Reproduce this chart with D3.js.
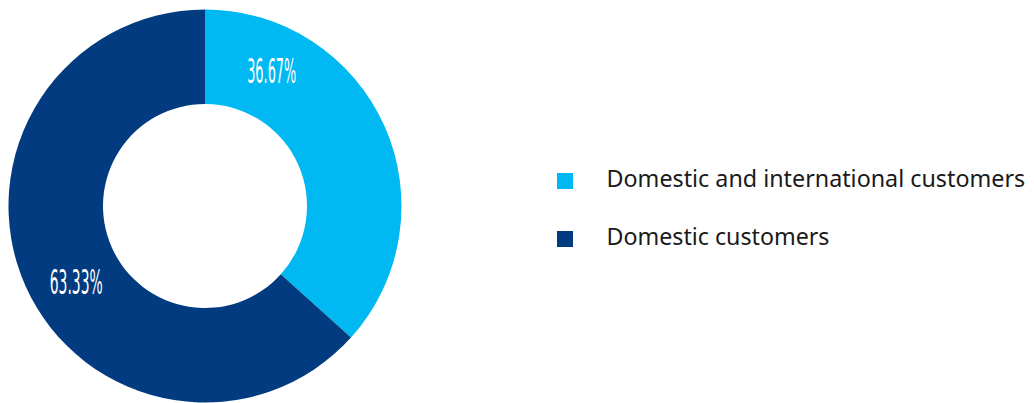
<!DOCTYPE html>
<html>
<head>
<meta charset="utf-8">
<script src="https://cdn.jsdelivr.net/npm/d3@7"></script>
<style>
html,body{margin:0;padding:0;background:#fff;}
svg{display:block;}
</style>
</head>
<body>
<svg id="chart" width="1034" height="403"></svg>
<script>
const categories = ["Domestic and international customers", "Domestic customers"];
const values = [36.67, 63.33];
const labels = ["36.67%", "63.33%"];
const colors = ["#00b9f2", "#023b7f"];
const labelFractions = [0.2, 0.47];

const svg = d3.select("#chart");
const cx = 205, cy = 206, R = 196.5, r = 102;

const pie = d3.pie().sort(null).value(d => d)(values);
const arc = d3.arc().innerRadius(r).outerRadius(R);

const g = svg.append("g").attr("transform", `translate(${cx},${cy})`);
g.selectAll("path").data(pie).join("path")
  .attr("d", arc)
  .attr("fill", (d, i) => colors[i]);

const labelRadius = 150;
g.selectAll("text.lbl").data(pie).join("text")
  .attr("class", "lbl")
  .each(function(d, i) {
    const a = d.startAngle + labelFractions[i] * (d.endAngle - d.startAngle);
    const x = labelRadius * Math.sin(a), y = -labelRadius * Math.cos(a);
    d3.select(this).attr("x", x).attr("y", y + 11);
  })
  .attr("text-anchor", "middle")
  .attr("fill", "#fff")
  .attr("font-family", "'Liberation Sans Narrow', 'DejaVu Sans Condensed', sans-serif")
  .attr("font-size", 34)
  .attr("textLength", (d, i) => i === 0 ? 49 : 53)
  .attr("lengthAdjust", "spacingAndGlyphs")
  .text((d, i) => labels[i]);

const legend = svg.append("g");
const rows = legend.selectAll("g").data(categories).join("g")
  .attr("transform", (d, i) => `translate(557,${173 + i * 58})`);
rows.append("rect").attr("width", 16).attr("height", 16)
  .attr("fill", (d, i) => colors[i]);
const targetW = [419, 223];
rows.append("text")
  .attr("x", 0).attr("y", 0)
  .attr("font-family", "'Source Sans Pro', 'Noto Sans', sans-serif")
  .attr("font-size", 24)
  .attr("fill", "#1a1a1a")
  .text(d => d)
  .each(function(d, i) {
    const w = this.getComputedTextLength();
    const s = targetW[i] / w;
    d3.select(this).attr("transform", `translate(49.5,14) scale(${s},1)`);
  });
</script>
</body>
</html>
